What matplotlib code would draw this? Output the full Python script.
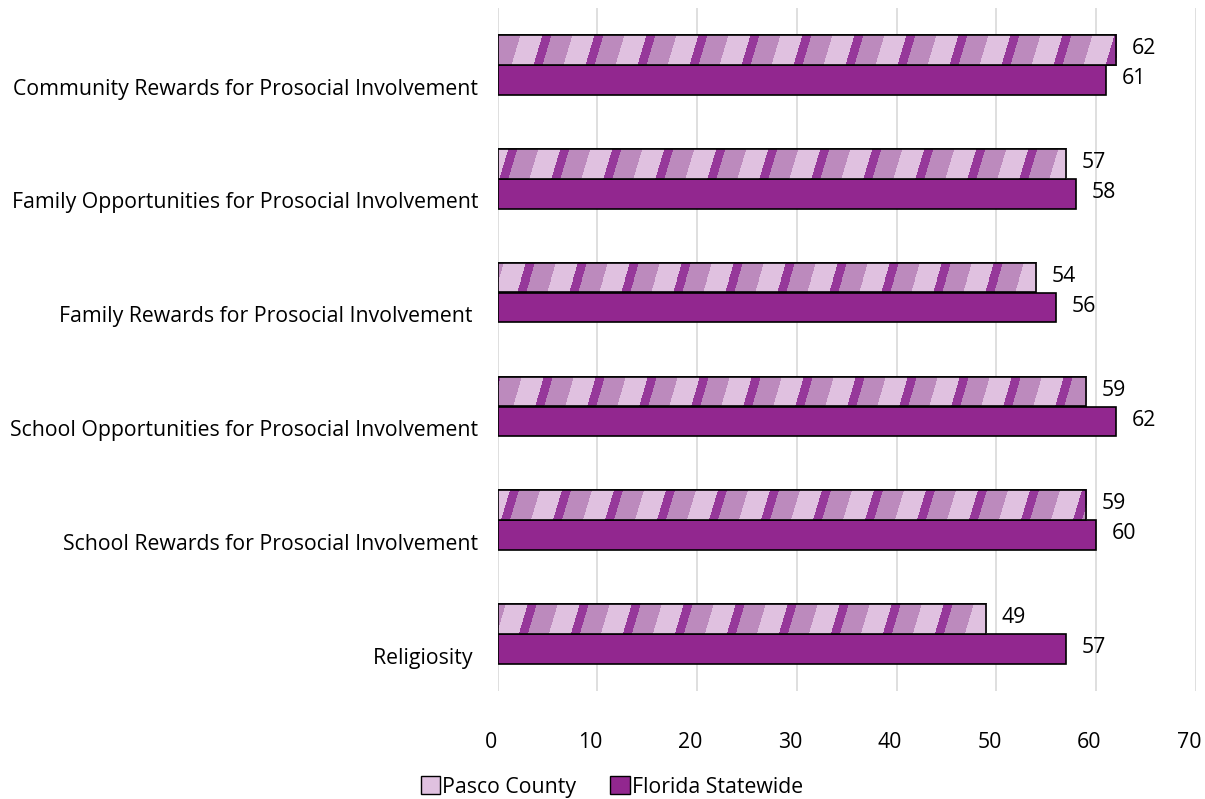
import numpy as np
import matplotlib
matplotlib.use("Agg")
import matplotlib.pyplot as plt
from matplotlib.patches import Patch

plt.rcParams['font.family'] = ['Open Sans', 'DejaVu Sans']

# ── data ────────────────────────────────────────────────
categories = [
    "Community Rewards for Prosocial Involvement",
    "Family Opportunities for Prosocial Involvement",
    "Family Rewards for Prosocial Involvement ",
    "School Opportunities for Prosocial Involvement",
    "School Rewards for Prosocial Involvement",
    "Religiosity ",
]
pasco   = [62, 57, 54, 59, 59, 49]
florida = [61, 58, 56, 62, 60, 57]
series_names = ["Pasco County", "Florida Statewide"]
xticks = [0, 10, 20, 30, 40, 50, 60, 70]

PURPLE = "#92278F"
LIGHT  = "#E0C1E0"
MID    = "#BC8ABD"
DARK   = "#96389A"
FS = 15.3

W, H = 1205, 799
fig = plt.figure(figsize=(W / 100, H / 100), dpi=100)
ax = fig.add_axes([497.5 / W, 1 - 691 / H, (1196 - 497.5) / W, 683 / H])

y = np.arange(len(categories))
bh = 0.26
off = 0.132

bars_p = ax.barh(y - off, pasco, height=bh, color=LIGHT, edgecolor="black",
                 linewidth=1.2, zorder=3)
bars_f = ax.barh(y + off, florida, height=bh, color=PURPLE, edgecolor="black",
                 linewidth=1.2, zorder=3)

ax.set_xlim(0, 70)
ax.set_ylim(len(categories) - 0.5, -0.5)

# striped texture for the Pasco bars (clipped to each bar)
pos = ax.get_position()
pw, ph = int(round(pos.width * W)), int(round(pos.height * H))
cols = np.arange(pw)[None, :]
rows = np.arange(ph)[:, None]
u = (cols + 0.3 * rows) % 52
tex = np.empty((ph, pw, 3))
def rgb(h):
    return np.array([int(h[i:i + 2], 16) / 255 for i in (1, 3, 5)])
tex[:] = rgb(LIGHT)
tex[(u >= 9) & (u < 30)] = rgb(MID)
tex[u < 9] = rgb(DARK)
for b in bars_p:
    im = ax.imshow(tex, extent=(0, 70, len(categories) - 0.5, -0.5),
                   aspect="auto", interpolation="nearest", zorder=3.5)
    im.set_clip_path(b)
    ax.add_patch(plt.Rectangle(b.get_xy(), b.get_width(), b.get_height(),
                               fill=False, edgecolor="black", linewidth=1.2,
                               zorder=4))
ax.set_xlim(0, 70)
ax.set_ylim(len(categories) - 0.5, -0.5)

# value labels
for b, v in zip(bars_p, pasco):
    ax.annotate(str(v), (v, b.get_y() + b.get_height() / 2), xytext=(11, 1),
                textcoords="offset points", va="center", ha="left", fontsize=FS)
for b, v in zip(bars_f, florida):
    ax.annotate(str(v), (v, b.get_y() + b.get_height() / 2), xytext=(11, 1),
                textcoords="offset points", va="center", ha="left", fontsize=FS)

# x tick labels drawn by hand (slightly left of gridlines, as in Excel)
ax.set_xticks(xticks)
ax.set_xticklabels([])
for t in xticks:
    ax.annotate(str(t), (t, 0), xycoords=ax.get_xaxis_transform(),
                xytext=(-5, -37), textcoords="offset points",
                ha="center", va="center", fontsize=FS)
ax.set_yticks(y + 0.19)
ax.set_yticklabels(categories, fontsize=FS)
ax.tick_params(axis="x", length=0)
ax.tick_params(axis="y", length=0, pad=14)
for s in ax.spines.values():
    s.set_visible(False)
ax.grid(axis="x", color="#D9D9D9", linewidth=1.2, zorder=0)
ax.set_axisbelow(True)

handles = [Patch(facecolor=LIGHT, edgecolor="black", label=series_names[0]),
           Patch(facecolor=PURPLE, edgecolor="black", label=series_names[1])]
fig.legend(handles=handles, loc="center", bbox_to_anchor=(612 / W, 1 - 787 / H),
           ncol=2, frameon=False, fontsize=FS, handlelength=0.9,
           handleheight=0.9, handletextpad=0.1, columnspacing=1.6)

fig.savefig("out.png", dpi=100)
